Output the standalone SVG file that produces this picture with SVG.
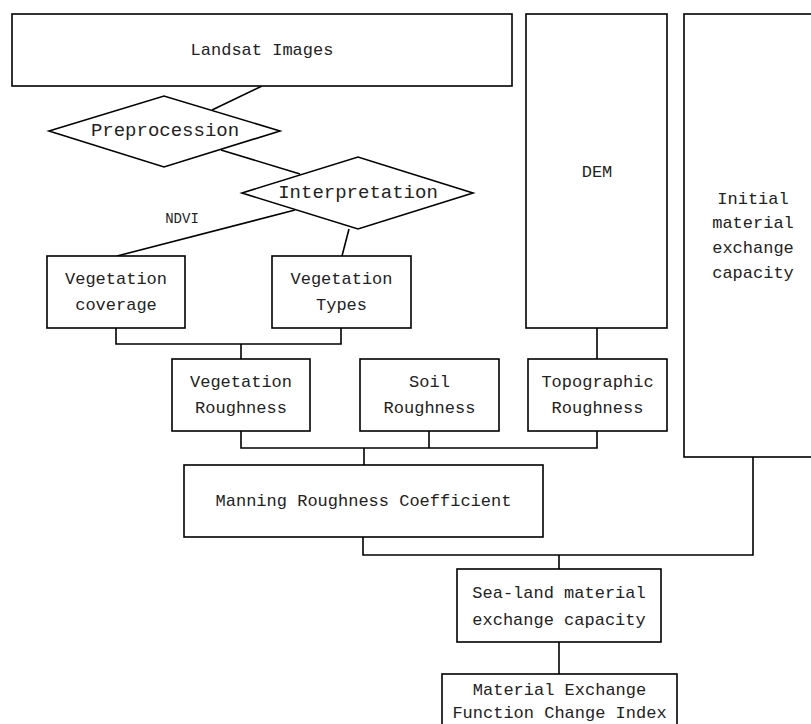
<svg xmlns="http://www.w3.org/2000/svg" width="811" height="724" viewBox="0 0 811 724">
<style>
.b{fill:#fff;stroke:#000;stroke-width:1.6}
.c{fill:none;stroke:#000;stroke-width:1.6}
text{font-family:"Liberation Mono","DejaVu Sans Mono",monospace;font-size:17px;fill:#222;text-anchor:middle;dominant-baseline:central}
.d{font-size:19px}
.s{font-size:14px}
</style>
<rect width="811" height="724" fill="#fff"/>
<g id="connectors">
<line class="c" x1="262" y1="86" x2="212" y2="110"/>
<line class="c" x1="221" y1="150" x2="300" y2="174"/>
<line class="c" x1="295" y1="210" x2="117" y2="256"/>
<line class="c" x1="349" y1="229" x2="342" y2="256"/>
<polyline class="c" points="116,328 116,344 341,344 341,328"/>
<line class="c" x1="241" y1="344" x2="241" y2="359"/>
<line class="c" x1="597" y1="328" x2="597" y2="359"/>
<polyline class="c" points="241,431 241,448 597,448 597,431"/>
<line class="c" x1="429" y1="431" x2="429" y2="448"/>
<line class="c" x1="364" y1="448" x2="364" y2="465"/>
<polyline class="c" points="363,537 363,555 753,555 753,457"/>
<line class="c" x1="559" y1="555" x2="559" y2="569"/>
<line class="c" x1="559" y1="642" x2="559" y2="674"/>
<text class="s" x="182" y="219">NDVI</text>
</g>
<g id="landsat"><rect class="b" x="12" y="14" width="500" height="72"/><text x="262" y="50">Landsat Images</text></g>
<g id="dem"><rect class="b" x="526" y="14" width="141" height="314"/><text x="597" y="172">DEM</text></g>
<g id="initial"><rect class="b" x="684" y="14" width="140" height="443"/>
<text x="753" y="199">Initial</text><text x="753" y="223">material</text><text x="753" y="248">exchange</text><text x="753" y="273">capacity</text></g>
<g id="preprocession"><polygon class="b" points="49,131 164,96 280,131 164,167"/><text class="d" x="165" y="131">Preprocession</text></g>
<g id="interpretation"><polygon class="b" points="242,193 358,157 473,193 358,229"/><text class="d" x="358" y="193">Interpretation</text></g>
<g id="veg-coverage"><rect class="b" x="47" y="256" width="138" height="72"/><text x="116" y="279">Vegetation</text><text x="116" y="305">coverage</text></g>
<g id="veg-types"><rect class="b" x="272" y="256" width="139" height="72"/><text x="341.5" y="279">Vegetation</text><text x="341.5" y="305">Types</text></g>
<g id="veg-roughness"><rect class="b" x="172" y="359" width="138" height="72"/><text x="241" y="382">Vegetation</text><text x="241" y="408">Roughness</text></g>
<g id="soil-roughness"><rect class="b" x="360" y="359" width="139" height="72"/><text x="429.5" y="382">Soil</text><text x="429.5" y="408">Roughness</text></g>
<g id="topo-roughness"><rect class="b" x="528" y="359" width="139" height="72"/><text x="597.5" y="382">Topographic</text><text x="597.5" y="408">Roughness</text></g>
<g id="manning"><rect class="b" x="184" y="465" width="359" height="72"/><text x="363.5" y="501">Manning Roughness Coefficient</text></g>
<g id="sea-land"><rect class="b" x="457" y="569" width="204" height="73"/><text x="559" y="593">Sea-land material</text><text x="559" y="620">exchange capacity</text></g>
<g id="index"><rect class="b" x="442" y="674" width="235" height="70"/><text x="559.5" y="690">Material Exchange</text><text x="559.5" y="713">Function Change Index</text></g>
</svg>
